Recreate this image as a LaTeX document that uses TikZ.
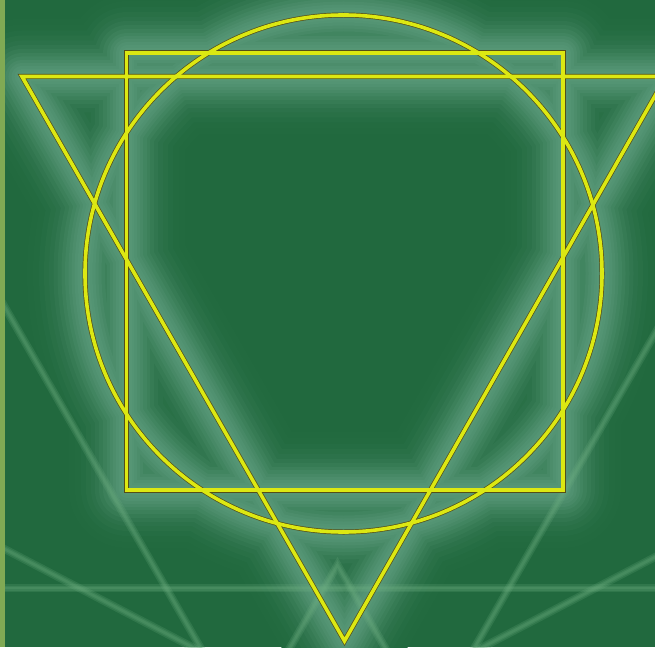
\documentclass[tikz,border=0pt]{standalone}
\definecolor{bg}{RGB}{33,105,62}
\definecolor{strip}{RGB}{128,170,84}
\definecolor{goldcol}{RGB}{220,232,18}
\definecolor{shadowcol}{RGB}{85,78,24}
\definecolor{halo}{RGB}{145,200,180}
\definecolor{faint}{RGB}{110,175,130}
\tikzset{
  glowline/.style={line join=round, line width=#1},
  faintline/.style={draw=faint, line width=#1, opacity=0.2},
  shadowline/.style={draw=shadowcol, line width=5pt, line join=miter},
  goldline/.style={draw=goldcol, line width=3.6pt, line join=miter}
}
\begin{document}
\begin{tikzpicture}[x=1pt,y=-1pt]
\fill[bg] (0,0) rectangle (655,647);
\useasboundingbox (0,0) rectangle (655,647);
% geometry
\coordinate (S1) at (126.5,53);
\coordinate (S2) at (563,490);
\coordinate (TL) at (22,76.5);
\coordinate (TR) at (666,76.5);
\coordinate (TB) at (344.5,641);
\coordinate (C) at (343.5,273.5);
\def\R{258.5}
\begin{scope}
\clip (0,0) rectangle (655,647);
% halo glow around the figure (opaque layers, light in the middle)
\foreach \w/\p in {116/1,104/2,92/4,82/7,72/10,63/14,55/19,47/24,40/29,33/34,27/38,21/42,15/45,10/47}{
  \draw[glowline=\w, draw=halo!\p!bg] (S1) rectangle (S2);
  \draw[glowline=\w, draw=halo!\p!bg] (TL) -- (TR) -- (TB) -- cycle;
  \draw[glowline=\w, draw=halo!\p!bg] (C) circle (\R);
}
% faint background lines
\foreach \w in {8,5,2.5}{
  \draw[faintline=\w] (-5,290) -- (215,673);
  \draw[faintline=\w] (680,290) -- (460,673);
  \draw[faintline=\w] (-5,544) -- (215,659);
  \draw[faintline=\w] (680,544) -- (460,659);
  \draw[faintline=\w] (0,588) -- (655,588);
  \draw[faintline=\w] (280,665) -- (337.5,565) -- (395,665);
}
% shadows
\begin{scope}[shift={(1.5,1.5)}]
  \draw[shadowline] (S1) rectangle (S2);
  \draw[shadowline] (TL) -- (TR) -- (TB) -- cycle;
  \draw[shadowline] (C) circle (\R);
\end{scope}
% yellow figure
\draw[goldline] (S1) rectangle (S2);
\draw[goldline] (TL) -- (TR) -- (TB) -- cycle;
\draw[goldline] (C) circle (\R);
\end{scope}
\fill[strip] (0,0) rectangle (5,647);
\end{tikzpicture}
\end{document}
